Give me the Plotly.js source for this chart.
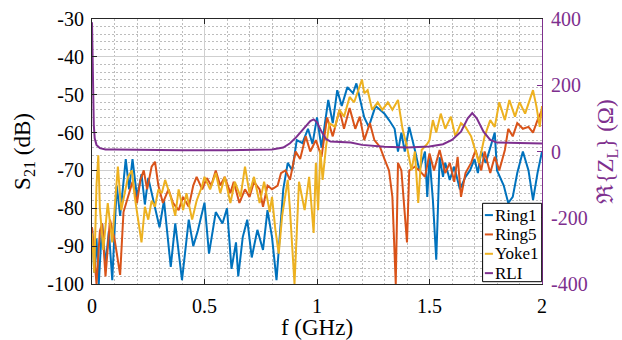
<!DOCTYPE html>
<html>
<head>
<meta charset="utf-8">
<script src="https://cdn.plot.ly/plotly-3.0.1.min.js"></script>
<style>html,body{margin:0;padding:0;background:#fff;}#chart{width:622px;height:340px;}</style>
</head>
<body>
<div id="chart"></div>
<script>
// ---- Data ----
const ring1F = [0.00,0.01,0.02,0.03,0.045,0.06,0.075,0.09,0.11,0.125,0.15,0.165,0.18,0.20,0.22,0.235,0.25,0.28,0.30,0.32,0.35,0.37,0.40,0.43,0.45,0.47,0.50,0.52,0.55,0.58,0.60,0.62,0.64,0.65,0.67,0.69,0.71,0.735,0.76,0.78,0.80,0.82,0.85,0.87,0.89,0.91,0.935,0.96,0.98,1.00,1.02,1.05,1.07,1.09,1.11,1.135,1.16,1.175,1.19,1.21,1.23,1.26,1.28,1.30,1.32,1.345,1.36,1.375,1.39,1.41,1.435,1.455,1.48,1.49,1.50,1.515,1.53,1.545,1.56,1.57,1.59,1.61,1.635,1.66,1.68,1.70,1.715,1.73,1.75,1.77,1.79,1.80,1.83,1.85,1.87,1.89,1.915,1.94,1.96,1.98,2.00];
const ring1S = [-85,-97,-88,-100,-84,-95,-86,-99,-74,-82,-67,-75,-67,-77,-71,-79,-72,-80,-85,-78,-95.5,-84,-99,-83,-90,-86,-78.5,-92,-81,-84,-80,-96,-89,-98,-87.6,-83,-93,-85.7,-91,-80.5,-87.6,-99,-75,-68,-70,-62,-62.8,-59,-63,-56,-64,-51.4,-57.5,-48.8,-53,-48,-49.6,-47,-51,-56,-58.5,-53,-54,-55,-56.7,-59,-65,-60,-65,-58.5,-64.6,-70,-65,-77,-66.4,-77.8,-93.6,-66.5,-71.7,-68,-72.5,-69,-75,-71.7,-70,-67,-70.7,-65,-68,-63.8,-60,-70,-74,-78.6,-77,-70.7,-65,-70,-77.8,-70.7,-65];

const ring5F = [0.00,0.01,0.02,0.035,0.045,0.06,0.08,0.10,0.125,0.14,0.16,0.18,0.20,0.215,0.23,0.245,0.265,0.28,0.295,0.315,0.34,0.36,0.385,0.405,0.43,0.45,0.465,0.49,0.51,0.53,0.55,0.57,0.59,0.615,0.63,0.655,0.68,0.70,0.72,0.745,0.76,0.78,0.80,0.825,0.84,0.86,0.88,0.905,0.925,0.95,0.97,0.995,1.02,1.045,1.07,1.10,1.12,1.145,1.17,1.19,1.21,1.235,1.255,1.28,1.30,1.32,1.335,1.35,1.36,1.375,1.40,1.41,1.435,1.455,1.48,1.50,1.52,1.545,1.57,1.59,1.61,1.625,1.64,1.66,1.685,1.705,1.73,1.745,1.77,1.79,1.81,1.835,1.85,1.87,1.89,1.915,1.94,1.96,1.98,2.00];
const ring5S = [-85,-92,-100,-86,-84,-98,-83,-88,-97.6,-81,-77,-73,-78.6,-72.5,-70,-75,-69,-67.7,-74,-78.6,-75,-78.6,-80.5,-77,-79.6,-74,-71.7,-75,-72,-74,-70,-74,-71.7,-76,-73,-78.6,-75,-77,-73,-75,-79.6,-74,-75,-74,-70.7,-70,-72.5,-65,-67,-61,-65,-62,-66.4,-56,-61,-54,-59,-53.5,-59,-55.8,-62,-57.5,-62,-63.8,-67,-70,-77,-100,-68,-70,-89,-70,-69,-70,-71.7,-65.5,-70,-64.6,-70.7,-68,-73,-66.4,-77,-70.7,-68,-64.6,-70,-65,-70.7,-66.4,-70,-64.6,-59,-61,-57.5,-59,-58.5,-60,-56.7,-54];

const yoke1F = [0.00,0.01,0.02,0.028,0.035,0.05,0.07,0.09,0.10,0.115,0.13,0.147,0.16,0.177,0.19,0.205,0.22,0.235,0.25,0.265,0.28,0.295,0.31,0.325,0.35,0.37,0.385,0.405,0.42,0.445,0.465,0.49,0.50,0.525,0.55,0.57,0.59,0.615,0.635,0.66,0.68,0.70,0.72,0.745,0.765,0.79,0.80,0.815,0.83,0.845,0.87,0.88,0.90,0.92,0.945,0.965,0.985,0.995,1.005,1.015,1.025,1.04,1.055,1.08,1.10,1.12,1.145,1.165,1.19,1.20,1.21,1.225,1.245,1.27,1.29,1.315,1.335,1.36,1.38,1.40,1.42,1.435,1.45,1.465,1.49,1.50,1.515,1.53,1.55,1.57,1.595,1.615,1.64,1.66,1.685,1.705,1.72,1.745,1.77,1.79,1.81,1.835,1.855,1.88,1.90,1.925,1.945,1.96,1.975,1.99,2.00];
const yoke1S = [-86.6,-97,-74,-66,-80,-91,-78.6,-89,-80.5,-69,-80.5,-75,-71.7,-70,-77,-83,-89,-79.6,-83,-78,-79.6,-75,-76,-72.5,-77,-82,-75,-80.5,-76,-83,-78,-74,-71.7,-75,-70.7,-76,-71.7,-78.6,-73,-77,-69,-76,-71.7,-78.6,-73,-81,-77,-85.7,-92,-82,-72.5,-80.5,-100,-73,-80.5,-71.7,-86.5,-68,-80.5,-64.6,-72.5,-63.8,-57.5,-58.5,-54,-55.8,-50.6,-52,-48,-46,-49.6,-48.8,-54,-52,-54,-52,-54,-51.4,-59,-63.8,-70,-65,-78.6,-64.6,-63,-62,-56.7,-60,-55,-59,-55.8,-61,-57.5,-58.5,-61,-65,-68,-61,-56.7,-58.5,-52,-56.7,-51.4,-55.8,-52,-55,-51.4,-48.8,-53,-58.5,-53];

const rliF = [0.000,0.002,0.005,0.008,0.012,0.020,0.035,0.060,0.10,0.20,0.40,0.60,0.80,0.85,0.88,0.91,0.94,0.97,0.985,1.00,1.02,1.04,1.06,1.10,1.15,1.20,1.30,1.40,1.50,1.56,1.60,1.64,1.67,1.69,1.71,1.74,1.77,1.80,1.90,2.00];
const rliZ = [390,300,150,80,40,20,10,6,6,5,4,4,6,12,25,45,70,92,97,88,60,38,30,28,27,20,14,12,15,22,35,60,100,116,100,60,35,27,25,24];

const seriesNames = ['Ring1','Ring5','Yoke1','RLI'];
const seriesColors = ['#0072BD','#D95319','#EDB120','#7E2F8E'];

const xTickVals = [0,0.5,1,1.5,2];
const xTickText = ['0','0.5','1','1.5','2'];
const yTickVals = [-100,-90,-80,-70,-60,-50,-40,-30];
const yTickText = ['-100','-90','-80','-70','-60','-50','-40','-30'];
const y2TickVals = [-400,-200,0,200,400];
const y2TickText = ['-400','-200','0','200','400'];

const FONT = '"Liberation Serif", "DejaVu Serif", serif';

const traces = [
  {x: ring1F, y: ring1S},
  {x: ring5F, y: ring5S},
  {x: yoke1F, y: yoke1S},
  {x: rliF, y: rliZ, yaxis: 'y2'}
].map((t, i) => Object.assign({
  type: 'scatter', mode: 'lines', name: seriesNames[i],
  line: {color: seriesColors[i], width: 2}, showlegend: false
}, t));

// Legend drawn in the MATLAB style (short line sample + label) inside a boxed area
const legX0 = 0.868, legX1 = 0.9993, legY0 = 0.0087, legY1 = 0.3045;
const legRowY = [0.260, 0.187, 0.114, 0.041];
const shapes = [{type: 'rect', xref: 'paper', yref: 'paper', x0: legX0, x1: legX1, y0: legY0, y1: legY1,
  line: {color: '#000', width: 1}, fillcolor: '#fff', layer: 'above'}];
const annotations = [];
seriesNames.forEach((n, i) => {
  shapes.push({type: 'line', xref: 'paper', yref: 'paper', x0: 0.873, x1: 0.891, y0: legRowY[i], y1: legRowY[i],
    line: {color: seriesColors[i], width: 2}, layer: 'above'});
  annotations.push({xref: 'paper', yref: 'paper', x: 0.892, y: legRowY[i], xanchor: 'left', yanchor: 'middle',
    text: n, showarrow: false, font: {family: FONT, size: 17, color: '#000'}});
});

const layout = {
  width: 622, height: 340,
  margin: {l: 92, r: 80, t: 19, b: 56},
  paper_bgcolor: '#fff', plot_bgcolor: '#fff',
  font: {family: FONT, size: 20, color: '#000'},
  showlegend: false,
  shapes: shapes, annotations: annotations,
  xaxis: {
    range: [0, 2], tickvals: xTickVals, ticktext: xTickText,
    ticks: 'inside', ticklen: 5, tickcolor: '#262626',
    showline: true, linecolor: '#262626', linewidth: 1, mirror: 'ticks',
    showgrid: true, gridcolor: '#cfcfcf', gridwidth: 1,
    minor: {dtick: 0.1, showgrid: true, gridcolor: '#bdbdbd', griddash: '2px,2px', ticks: ''},
    zeroline: false, ticklabelstandoff: 4,
    tickfont: {family: FONT, size: 20, color: '#000'},
    title: {text: 'f (GHz)', font: {family: FONT, size: 23, color: '#000'}, standoff: 2}
  },
  yaxis: {
    range: [-100, -30], tickvals: yTickVals, ticktext: yTickText,
    ticks: 'inside', ticklen: 5, tickcolor: '#262626',
    showline: true, linecolor: '#262626', linewidth: 1, mirror: false,
    showgrid: true, gridcolor: '#cfcfcf', gridwidth: 1,
    minor: {dtick: 2, showgrid: true, gridcolor: '#bdbdbd', griddash: '2px,2px', ticks: ''},
    zeroline: false, ticklabelstandoff: 3,
    tickfont: {family: FONT, size: 20, color: '#000'},
    title: {text: 'S<sub>21</sub> (dB)', font: {family: FONT, size: 23, color: '#000'}, standoff: 10}
  },
  yaxis2: {
    overlaying: 'y', side: 'right', range: [-400, 400],
    tickvals: y2TickVals, ticktext: y2TickText,
    ticks: 'inside', ticklen: 5, tickcolor: '#7E2F8E',
    showline: true, linecolor: '#7E2F8E', linewidth: 1,
    showgrid: false, zeroline: false, ticklabelstandoff: 4,
    tickfont: {family: FONT, size: 20, color: '#7E2F8E'},
    title: {text: 'ℜ{Z<sub>L</sub>} (Ω)', font: {family: FONT, size: 23, color: '#7E2F8E'}, standoff: 10}
  }
};

Plotly.newPlot('chart', traces, layout, {staticPlot: true, displayModeBar: false});
</script>
</body>
</html>
